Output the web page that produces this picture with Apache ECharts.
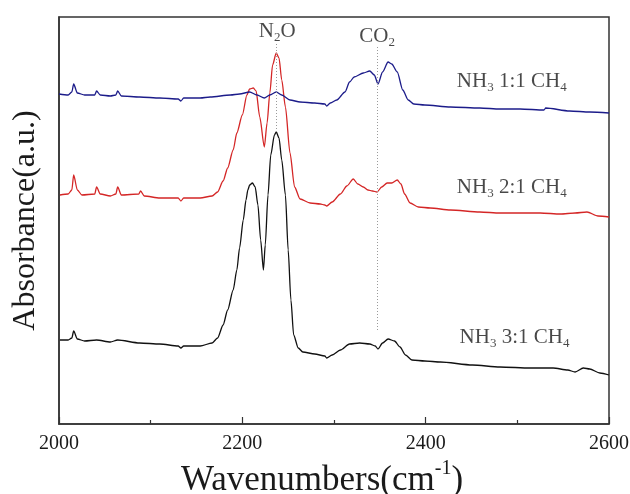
<!DOCTYPE html>
<html><head><meta charset="utf-8">
<script src="https://cdn.jsdelivr.net/npm/echarts@6/dist/echarts.min.js"></script>
<style>html,body{margin:0;padding:0;background:#fff}#c{width:630px;height:494px}</style>
</head><body><div id="c"></div>
<script>
// x: wavenumber (cm-1), y: absorbance (arbitrary units, offset traces)
const xRange = [2000, 2600];
const xInterval = 200;
const yRange = [0, 407];

const seriesNames = ['NH3 1:1 CH4', 'NH3 2:1 CH4', 'NH3 3:1 CH4'];
const seriesColors = ['#1c1c8a', '#d42626', '#111111'];

const blue11 = [[2000,330],[2010,329],[2014,332],[2016,340],[2020,331],[2028,329],[2039,329],[2041,333],[2045,329],[2056,328],[2062,329],[2064,333],[2068,328],[2088,327],[2110,326],[2130,325],[2133,323],[2136,326],[2154,326],[2165,327],[2187,329],[2197,330],[2208,332],[2216,329],[2224,326],[2230,329],[2237,332],[2243,329],[2252,324],[2263,322],[2279,321],[2290,320],[2292,318],[2296,321],[2303,324],[2312,332],[2317,342],[2322,347],[2332,351],[2339,353],[2344,349],[2348,340],[2353,352],[2359,362],[2363,360],[2369,352],[2375,334],[2381,324],[2387,320],[2399,319],[2427,317],[2459,316],[2481,315],[2503,315],[2529,314],[2531,316],[2557,313],[2579,312],[2600,311]];

const red21 = [[2001,229],[2010,230],[2014,234],[2016,249],[2020,234],[2025,229],[2039,230],[2041,237],[2045,230],[2056,228],[2062,230],[2064,237],[2068,229],[2087,230],[2089,233],[2093,228],[2110,226],[2130,226],[2133,223],[2136,226],[2154,226],[2167,228],[2173,232],[2179,243],[2184,256],[2190,274],[2194,291],[2200,309],[2205,329],[2208,335],[2212,336],[2215,333],[2219,307],[2224,277],[2227,301],[2230,331],[2233,359],[2237,371],[2240,366],[2243,344],[2247,317],[2252,271],[2257,237],[2263,225],[2274,221],[2285,220],[2290,219],[2292,218],[2298,222],[2307,230],[2314,238],[2321,245],[2326,240],[2332,237],[2337,234],[2342,233],[2347,232],[2352,237],[2358,241],[2363,241],[2369,244],[2373,240],[2377,230],[2383,221],[2392,217],[2405,216],[2427,214],[2459,212],[2481,211],[2503,211],[2525,211],[2547,210],[2563,211],[2576,212],[2588,208],[2600,207]];

const black31 = [[2001,84],[2010,84],[2014,86],[2016,93],[2020,85],[2028,83],[2041,84],[2056,82],[2064,84],[2088,81],[2110,80],[2130,78],[2133,76],[2136,78],[2154,78],[2167,81],[2173,86],[2179,99],[2184,114],[2190,134],[2194,154],[2197,176],[2201,204],[2204,224],[2206,234],[2208,239],[2211,241],[2214,237],[2217,219],[2220,184],[2223,154],[2225,179],[2228,229],[2231,269],[2235,289],[2237,292],[2240,286],[2243,264],[2247,229],[2250,174],[2253,124],[2256,89],[2261,76],[2266,72],[2279,70],[2290,68],[2292,66],[2298,69],[2307,74],[2317,80],[2328,81],[2339,80],[2345,78],[2348,75],[2353,81],[2359,85],[2366,83],[2372,77],[2378,69],[2385,64],[2399,63],[2416,62],[2451,59],[2481,57],[2514,56],[2539,56],[2555,54],[2563,52],[2572,56],[2579,55],[2590,51],[2600,49]];

// band markers: wavenumber, y start, y end
const bandLines = [[2237, 380, 292], [2347, 377, 94]];

// text annotations: [x, y, rich text, placement]
const annotations = [
  [2238, 393, '{m|N}{s|2}{m|O}', 'inside'],
  [2347, 388, '{m|CO}{s|2}', 'inside'],
  [2434, 343, '{m|NH}{s|3}{m| 1:1 CH}{s|4}', 'right'],
  [2434, 237, '{m|NH}{s|3}{m| 2:1 CH}{s|4}', 'right'],
  [2437, 87, '{m|NH}{s|3}{m| 3:1 CH}{s|4}', 'right']
];

const F = '"Liberation Serif","Times New Roman",serif';
const TXT = '#1a1a1a';
const rich = {
  m: {fontSize: 21, fontFamily: F, color: TXT, lineHeight: 26},
  s: {fontSize: 13, fontFamily: F, color: TXT, lineHeight: 6, verticalAlign: 'bottom'}
};

const chart = echarts.init(document.getElementById('c'), null, {renderer: 'canvas'});
const traces = [blue11, red21, black31];

const series = traces.map((d, i) => ({
  name: seriesNames[i], type: 'line', data: d, showSymbol: false,
  smooth: 0.25, smoothMonotone: 'x',
  lineStyle: {color: seriesColors[i], width: 1.3}, itemStyle: {color: seriesColors[i]},
  z: 3 - i, silent: true
}));

series.push({
  type: 'line', data: [], silent: true,
  markLine: {
    symbol: 'none', silent: true, animation: false,
    label: {show: false},
    lineStyle: {type: [1, 2], color: '#9a9a9a', width: 1},
    data: bandLines.map(b => [{coord: [b[0], b[1]]}, {coord: [b[0], b[2]]}])
  }
});

series.push({
  type: 'scatter', symbolSize: 0, silent: true,
  data: annotations.map(a => ({
    value: [a[0], a[1]],
    label: {show: true, position: a[3], distance: 0, formatter: a[2], rich: rich}
  }))
});

chart.setOption({
  animation: false,
  backgroundColor: '#fff',
  grid: {left: 59, top: 17, right: 21, bottom: 70, outerBoundsMode: 'none', containLabel: false,
    show: true, borderColor: '#333', borderWidth: 1.5, backgroundColor: 'transparent'},
  xAxis: {
    type: 'value', min: xRange[0], max: xRange[1], interval: xInterval,
    axisLine: {show: true, lineStyle: {color: '#333', width: 1.5}},
    axisTick: {show: true, inside: true, length: 7, lineStyle: {color: '#333', width: 1.2}},
    minorTick: {show: true, splitNumber: 2, length: 4, lineStyle: {color: '#333', width: 1.2}},
    splitLine: {show: false},
    axisLabel: {fontSize: 20, fontFamily: F, color: TXT, margin: 10, showMinLabel: true, showMaxLabel: true,
      formatter: v => String(v)},
    name: '{m|Wavenumbers(cm}{p|-1}{m|)}',
    nameLocation: 'middle', nameGap: 30,
    nameTextStyle: {
      padding: [0, 24, 0, 0],
      rich: {
        m: {fontSize: 35, fontFamily: F, color: TXT, lineHeight: 44},
        p: {fontSize: 20, fontFamily: F, color: TXT, lineHeight: 18, verticalAlign: 'top'}
      }
    }
  },
  yAxis: {
    type: 'value', min: yRange[0], max: yRange[1],
    axisLine: {show: true, lineStyle: {color: '#333', width: 1.5}},
    axisTick: {show: false}, axisLabel: {show: false}, splitLine: {show: false},
    name: 'Absorbance(a.u.)', nameLocation: 'middle', nameGap: 17,
    nameTextStyle: {fontSize: 32, fontFamily: F, color: TXT}
  },
  series: series
});
</script>
</body></html>
